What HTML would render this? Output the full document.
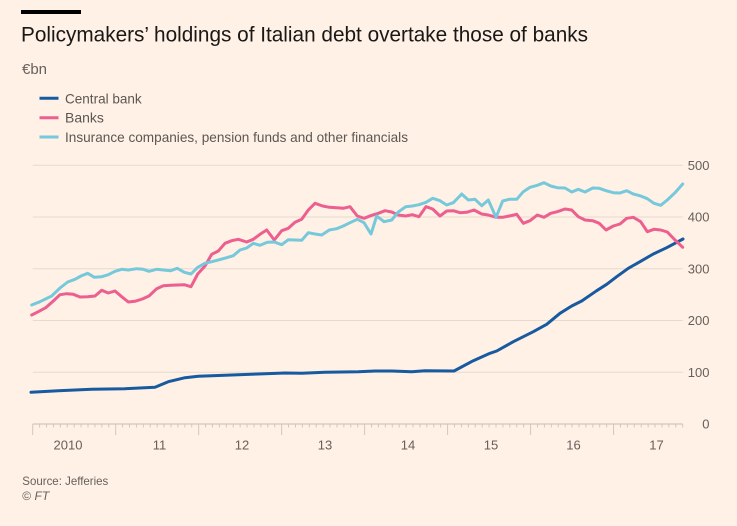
<!DOCTYPE html>
<html>
<head>
<meta charset="utf-8">
<style>
  html, body { margin: 0; padding: 0; background: #fff1e5; }
  svg { display: block; }
  text { font-family: "Liberation Sans", sans-serif; }
</style>
</head>
<body>
<svg width="737" height="526" viewBox="0 0 737 526" xmlns="http://www.w3.org/2000/svg">
  <rect x="0" y="0" width="737" height="526" fill="#fff1e5"/>
  <!-- top bar -->
  <rect x="21" y="10" width="60" height="4" fill="#000000"/>
  <!-- title -->
  <text x="21" y="41.7" font-size="21" fill="#1a1817" textLength="567" lengthAdjust="spacingAndGlyphs">Policymakers’ holdings of Italian debt overtake those of banks</text>
  <text x="22" y="74" font-size="15" fill="#66605c">€bn</text>

  <!-- legend -->
  <line x1="39.5" y1="98.3" x2="58.5" y2="98.3" stroke="#175aa0" stroke-width="3"/>
  <line x1="39.5" y1="117.7" x2="58.5" y2="117.7" stroke="#ec5f8f" stroke-width="3"/>
  <line x1="39.5" y1="137" x2="58.5" y2="137" stroke="#76c8db" stroke-width="3"/>
  <text x="65" y="103.3" font-size="14" fill="#5c5753" textLength="76.7" lengthAdjust="spacingAndGlyphs">Central bank</text>
  <text x="65" y="122.7" font-size="14" fill="#5c5753">Banks</text>
  <text x="65" y="142" font-size="14" fill="#5c5753" textLength="343" lengthAdjust="spacingAndGlyphs">Insurance companies, pension funds and other financials</text>

  <!-- gridlines -->
  <g stroke="#e6d9ce" stroke-width="1">
    <line x1="32.7" y1="165.3" x2="682.7" y2="165.3"/>
    <line x1="32.7" y1="217" x2="682.7" y2="217"/>
    <line x1="32.7" y1="268.8" x2="682.7" y2="268.8"/>
    <line x1="32.7" y1="320.5" x2="682.7" y2="320.5"/>
    <line x1="32.7" y1="372.3" x2="682.7" y2="372.3"/>
  </g>
  <!-- y labels -->
  <g font-size="13" fill="#66605c" text-anchor="end">
    <text x="709.5" y="170">500</text>
    <text x="709.5" y="221.7">400</text>
    <text x="709.5" y="273.5">300</text>
    <text x="709.5" y="325.2">200</text>
    <text x="709.5" y="377">100</text>
    <text x="709.5" y="428.7">0</text>
  </g>

  <!-- x axis -->
  <line x1="32.7" y1="424" x2="682.7" y2="424" stroke="#d3c7bc" stroke-width="1.2"/>
  <g id="ticks" stroke="#d3c7bc" stroke-width="1"></g>

  <g font-size="13" fill="#66605c" text-anchor="middle">
    <text x="68" y="449.3">2010</text>
    <text x="159.5" y="449.3">11</text>
    <text x="242" y="449.3">12</text>
    <text x="325" y="449.3">13</text>
    <text x="408" y="449.3">14</text>
    <text x="491" y="449.3">15</text>
    <text x="573.5" y="449.3">16</text>
    <text x="656.5" y="449.3">17</text>
  </g>

  <!-- series -->
  <g fill="none" stroke-width="3" stroke-linejoin="round" stroke-linecap="round">
    <polyline stroke="#175aa0" points="31,392.3 58.3,390.7 91.7,389.3 125,388.7 155,387.3 168.3,381.7 185,377.7 198.3,376.3 225,375.3 258.3,374 285,373 301.7,373.3 325,372.3 358.3,371.7 375,371 391.7,371 411.7,371.7 425,370.7 454,371 473.3,360.7 490,353.3 496.7,351 513.3,341.7 533.3,331.7 546.7,324.3 560,313.3 571.7,306 581.7,301 596.7,290.7 606.7,284.3 616.7,276.7 628.3,268.3 640,261.7 653.3,254 666.7,247.7 683,239"/>
    <polyline stroke="#ec5f8f" points="31.7,315 38.3,311.7 45.7,307.7 53.3,301 60,294.7 66.7,293.7 73.3,294.3 80,297 87.7,296.7 95,296 101.7,290.3 108.3,293 115,291 121.7,296.7 128.3,302 135,301.3 142.3,299 149,296 156.7,288.7 163.3,285.7 170.7,285.3 177.3,285 184.3,284.7 191,286.7 197.7,274 205,266 211.7,254.3 218.3,251 225,243.3 231.7,240.7 238.3,239.3 246.7,242 253.3,239.3 260,234.3 266.7,230 274.3,240 281.7,230.7 288.3,228.3 295,222.3 301.7,219.3 308.3,210 315,203.3 322.7,206 329.3,207.3 336.7,207.7 343.3,208.3 350,206.7 357.3,216 364,218.3 371.7,215.3 378.3,213.3 385,210.7 391.7,212 398.3,215 405.7,216 412.3,214.7 419,216.7 426,206.7 432.7,209 440,216 446.7,211 453.3,210.7 460,212.7 466.7,212.3 474,210 481.7,214 488.3,215 496,217.3 502.7,217.3 509.3,216 516.7,214.3 523.3,223.3 530,220.7 537.3,215 544,217.3 550.7,213.3 557.3,211.7 565,209 571.7,210 578.3,216.7 585,220 592.7,220.7 599.3,223.3 606,230 613.3,226 620,224 626.7,218.3 633.3,217.3 640.7,221.7 647.3,231.7 654,229.3 660.7,230 667.3,232 675,240 682.7,247.3"/>
    <polyline stroke="#76c8db" points="31.7,305 40,301.7 51.7,296 60,288 67.7,282 75,279.3 81,276 87.7,273.3 94.3,277.3 101.7,276.7 108.3,274.7 115,271.3 121.7,269.3 128.3,270 136.7,268.7 143.3,269.3 149,271.3 156.7,269.3 163.3,270 170.7,270.7 177.3,268.3 184.3,272.3 191,274 197.7,267.3 205,263.3 211.7,261.7 218.3,260 226.7,257.7 233.3,255.7 240,250 246.7,248 253.3,243.3 260,245.3 267.3,242.3 274.3,242 281.7,244.7 288.3,239.7 295,240 301.7,240.3 308.3,232.7 315,234 321.7,235 329.3,230 336.7,228.7 343.3,226 350,222.7 357.3,219.3 364,222.7 371,234 376.7,216 384,221.7 391.7,220 398.3,212 405.7,206.7 412.3,206 419,204.7 426,202.3 432.7,198.3 440,200.7 446.7,205 453.3,202.7 461.7,194 468.3,200 475,199.3 481.7,205.7 488.3,200 496,217.3 502.7,201 509.3,199.3 516.7,199.3 523.3,191.7 530,187.3 537.3,185.3 544,182.7 550.7,186 557.3,187.7 565,188 571.7,192 578.3,189.3 585,192 592.7,188 599.3,188.3 606,190.7 613.3,192.7 620,193 626.7,190.7 633.3,194 640.7,196 647.3,198.7 654,203.3 660.7,205.3 667.3,200 675,192.7 682.7,184"/>
  </g>

  <!-- source -->
  <text x="22.3" y="485" font-size="12" fill="#66605c" textLength="86" lengthAdjust="spacingAndGlyphs">Source: Jefferies</text>
  <text x="22.3" y="500" font-size="12" fill="#66605c">© <tspan font-style="italic">FT</tspan></text>

  <script>
    (function(){
      var g = document.getElementById('ticks');
      var ns = 'http://www.w3.org/2000/svg';
      for (var i = 0; i <= 94; i++) {
        var x = 32.7 + i * 6.9149;
        var l = document.createElementNS(ns, 'line');
        l.setAttribute('x1', x.toFixed(2));
        l.setAttribute('x2', x.toFixed(2));
        l.setAttribute('y1', '424');
        l.setAttribute('y2', (i % 12 === 0) ? '435' : '427.5');
        g.appendChild(l);
      }
    })();
  </script>
</svg>
</body>
</html>
